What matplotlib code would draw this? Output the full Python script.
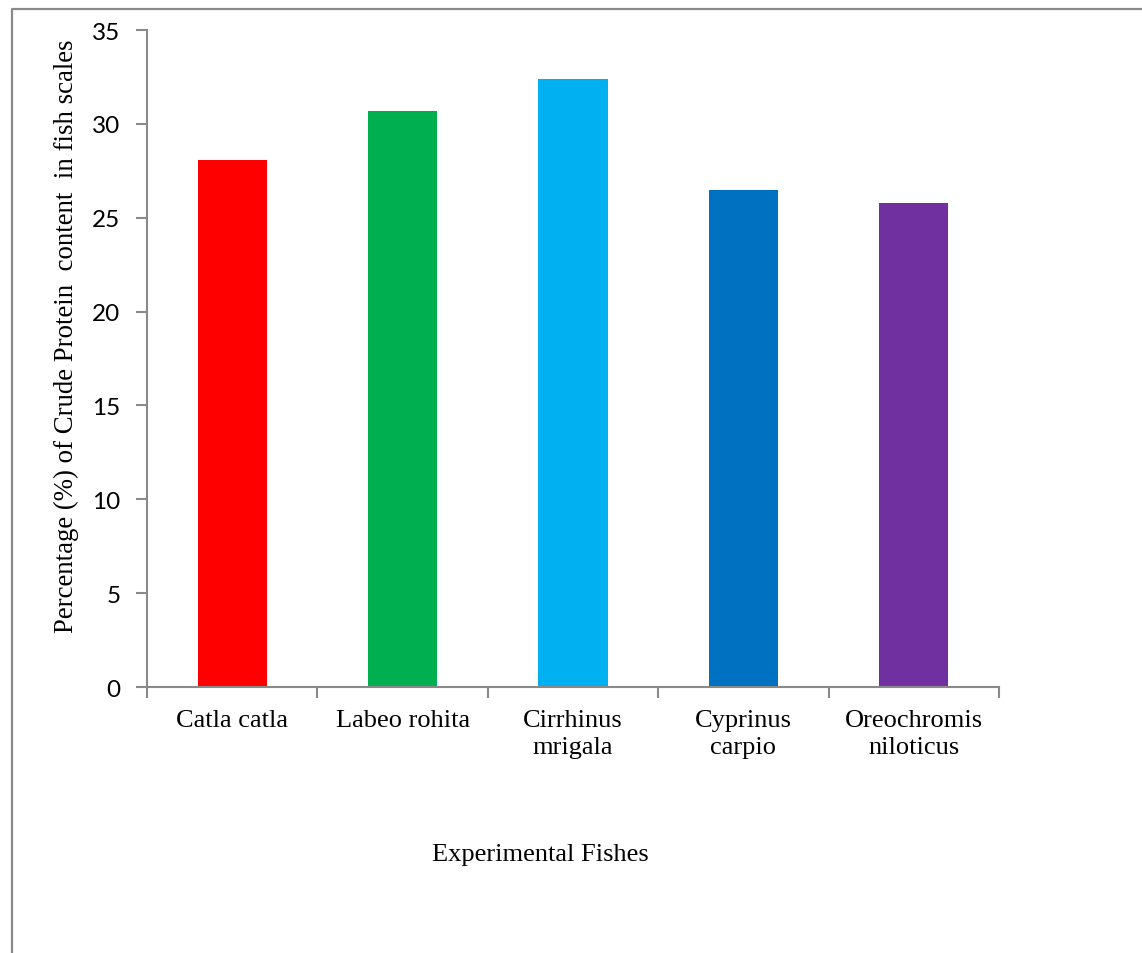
import numpy as np
import matplotlib.pyplot as plt
from matplotlib.lines import Line2D

fishes = ["Catla catla", "Labeo rohita", "Cirrhinus\nmrigala", "Cyprinus\ncarpio", "Oreochromis\nniloticus"]
protein = [28.1, 30.7, 32.4, 26.5, 25.8]
colors = ["#FF0000", "#00B050", "#00B0F0", "#0070C0", "#7030A0"]
yticks = [0, 5, 10, 15, 20, 25, 30, 35]

axis_grey = "#8a8a8a"

fig = plt.figure(figsize=(11.42, 9.54), dpi=100)
ax = fig.add_axes([0.1287, 0.2788, 0.7461, 0.6887])

x = np.arange(len(fishes))
ax.bar(x, protein, width=0.405, color=colors)

ax.set_xlim(-0.5, len(fishes) - 0.5)
ax.set_ylim(0, 35)
ax.set_yticks(yticks)
ax.set_yticklabels([str(v) for v in yticks], family="Lato", fontsize=17.5)
ax.tick_params(axis="y", direction="out", length=8, width=1.5, color=axis_grey, pad=11)

# category labels centred under the bars, ticks at the category boundaries
ax.set_xticks(x)
ax.set_xticklabels(fishes, family="Liberation Serif", fontsize=19, linespacing=1.27)
ax.tick_params(axis="x", which="major", length=0, pad=16)
ax.set_xticks(np.arange(len(fishes) + 1) - 0.5, minor=True)
ax.tick_params(axis="x", which="minor", direction="out", length=8, width=1.5, color=axis_grey)

for side in ["top", "right"]:
    ax.spines[side].set_visible(False)
for side in ["left", "bottom"]:
    ax.spines[side].set_color(axis_grey)
    ax.spines[side].set_linewidth(1.5)

ax.set_ylabel("Percentage (%) of Crude Protein  content  in fish scales",
              family="Liberation Serif", fontsize=19.3, va="center")
ax.yaxis.set_label_coords(-0.094, 0.536)
fig.text(0.473, 0.104, "Experimental Fishes", family="Liberation Serif",
         fontsize=19, ha="center", va="center")

# page frame around the chart
fig.add_artist(Line2D([12 / 1142, 12 / 1142, 1.0], [0.0, 1 - 10 / 954, 1 - 10 / 954],
                      transform=fig.transFigure, color=axis_grey, linewidth=1.6))

fig.savefig("out.png", dpi=100)
